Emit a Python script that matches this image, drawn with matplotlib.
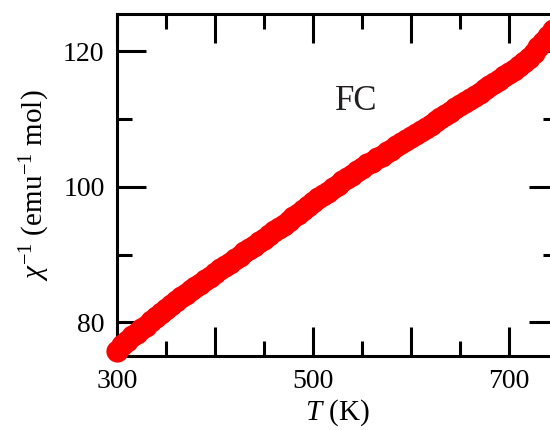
import numpy as np
import matplotlib
matplotlib.use('Agg')
import matplotlib.pyplot as plt
from matplotlib.ticker import MultipleLocator

plt.rcParams['font.family'] = ['Liberation Serif', 'DejaVu Serif']
plt.rcParams['mathtext.fontset'] = 'custom'
plt.rcParams['mathtext.rm'] = 'Liberation Serif'
plt.rcParams['mathtext.it'] = 'Liberation Serif:italic'

# FC inverse susceptibility (every 5 K)
temp = [300, 305, 310, 315, 320, 325, 330, 335, 340, 345,
        350, 355, 360, 365, 370, 375, 380, 385, 390, 395,
        400, 405, 410, 415, 420, 425, 430, 435, 440, 445,
        450, 455, 460, 465, 470, 475, 480, 485, 490, 495,
        500, 505, 510, 515, 520, 525, 530, 535, 540, 545,
        550, 555, 560, 565, 570, 575, 580, 585, 590, 595,
        600, 605, 610, 615, 620, 625, 630, 635, 640, 645,
        650, 655, 660, 665, 670, 675, 680, 685, 690, 695,
        700, 705, 710, 715, 720, 725, 730, 735, 740, 745]
chi_inv = [75.8, 76.6, 77.2, 77.9, 78.4, 79.0, 79.5, 80.2, 80.8, 81.4,
           82.0, 82.6, 83.1, 83.7, 84.2, 84.7, 85.2, 85.7, 86.2, 86.7,
           87.2, 87.8, 88.3, 88.8, 89.3, 89.8, 90.3, 90.8, 91.3, 91.8,
           92.3, 92.9, 93.4, 93.9, 94.4, 95.0, 95.5, 96.0, 96.6, 97.1,
           97.7, 98.3, 98.8, 99.3, 99.8, 100.3, 100.8, 101.3, 101.8, 102.3,
           102.8, 103.3, 103.7, 104.2, 104.6, 105.1, 105.5, 106.0, 106.4, 106.9,
           107.3, 107.8, 108.3, 108.7, 109.2, 109.7, 110.2, 110.6, 111.1, 111.6,
           112.1, 112.5, 113.0, 113.4, 113.9, 114.4, 114.9, 115.3, 115.8, 116.3,
           116.8, 117.3, 117.9, 118.5, 119.1, 119.8, 120.6, 121.4, 122.3, 123.2]
x_labels = [300, 500, 700]

fig = plt.figure(figsize=(5.5, 4.3), dpi=100)
ax = fig.add_axes([0.2127, 0.172, 0.802, 0.795])

ax.plot(temp, chi_inv, 'o', color='#ff0000', markersize=16, markeredgewidth=0,
        clip_on=False, zorder=3)

ax.set_xlim(300, 750)
ax.set_ylim(75, 125.5)

ax.xaxis.set_major_locator(MultipleLocator(100))
ax.xaxis.set_minor_locator(MultipleLocator(50))
ax.yaxis.set_major_locator(MultipleLocator(20))
ax.yaxis.set_minor_locator(MultipleLocator(10))
ax.set_xticklabels([str(int(t)) if int(t) in x_labels else '' for t in ax.get_xticks()])

ax.tick_params(which='both', direction='in', top=True, right=True,
               width=2.2, labelsize=20, pad=9)
ax.tick_params(which='major', length=21)
ax.tick_params(which='minor', length=11)
for s in ax.spines.values():
    s.set_linewidth(2.2)

ax.text(544, 112.6, 'FC', fontsize=25, ha='center', va='center', color='#231f20')
ax.set_xlabel(r'$T$ (K)', fontsize=21, labelpad=3)
ax.set_ylabel(r'$\chi^{-1}$ (emu$^{-1}$ mol)', fontsize=21, labelpad=8)

fig.savefig('out.png', dpi=100)
